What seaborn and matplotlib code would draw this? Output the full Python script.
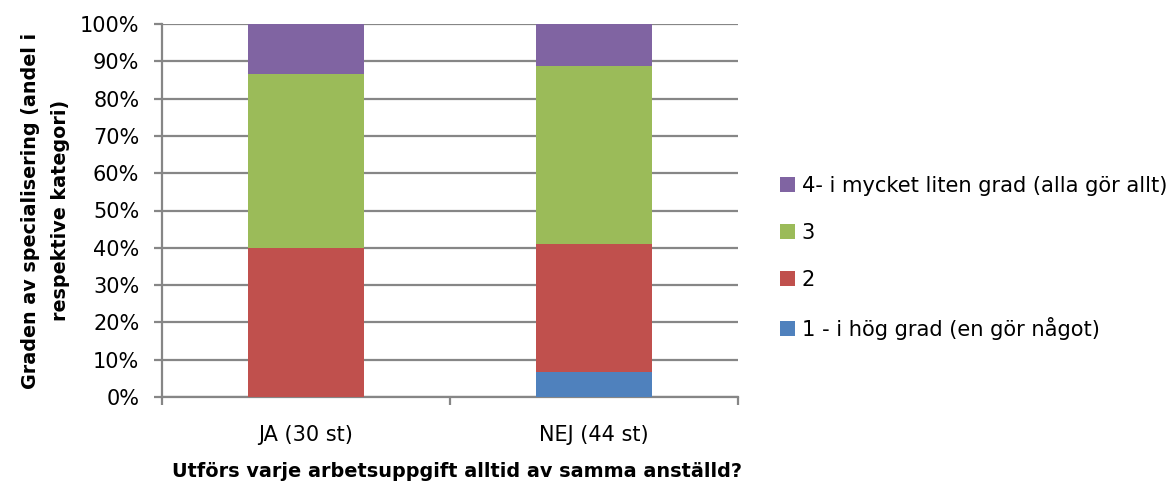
import matplotlib
matplotlib.use("Agg")
import matplotlib.pyplot as plt
from matplotlib.patches import Patch
from matplotlib.ticker import PercentFormatter
import numpy as np
import pandas as pd
import seaborn as sns

# Shares per answer group (counts converted to percent of each group)
categories = ["JA (30 st)", "NEJ (44 st)"]
series_names = ["1 - i hög grad (en gör något)", "2", "3",
                "4- i mycket liten grad (alla gör allt)"]
level_1 = [0.0, 6.82]
level_2 = [40.0, 34.09]
level_3 = [46.67, 47.73]
level_4 = [13.33, 11.36]
colors = ["#4F81BD", "#C0504D", "#9BBB59", "#8064A2"]
y_ticks = [0, 10, 20, 30, 40, 50, 60, 70, 80, 90, 100]

sns.set_theme(style="white")
plt.rcParams["font.family"] = ["DejaVu Sans"]
plt.rcParams["text.color"] = "#000000"
plt.rcParams["axes.labelcolor"] = "#000000"

fig = plt.figure(figsize=(11.72, 4.84), dpi=100)
W, H = 1172, 484
ax = fig.add_axes([162 / W, 1 - 397 / H, (738 - 162) / W, (397 - 24) / H])

levels = np.array([level_1, level_2, level_3, level_4])
cum = np.cumsum(levels, axis=0)

# Stack by drawing cumulative totals from the top layer downward
for i in range(len(series_names) - 1, -1, -1):
    df = pd.DataFrame({"cat": categories, "val": cum[i]})
    sns.barplot(data=df, x="cat", y="val", color=colors[i], width=0.4,
                saturation=1, ax=ax, zorder=3, linewidth=0)

ax.set_xlim(-0.5, 1.5)
ax.set_ylim(0, 100)
ax.set_yticks(y_ticks)
ax.yaxis.set_major_formatter(PercentFormatter(decimals=0))
ax.grid(axis="y", color="#868686", linewidth=1.6, zorder=0)
ax.set_axisbelow(True)

for side in ["top", "right"]:
    ax.spines[side].set_visible(False)
for side in ["left", "bottom"]:
    ax.spines[side].set_color("#868686")
    ax.spines[side].set_linewidth(1.6)

# category-boundary tick marks on the x axis
ax.set_xticks([-0.5, 0.5, 1.5], minor=True)
ax.tick_params(axis="x", which="minor", length=5.8, width=1.6, color="#868686",
               direction="out", bottom=True)
ax.tick_params(axis="x", which="major", length=0, labelsize=15, pad=20,
               labelcolor="#000000")
ax.tick_params(axis="y", which="major", length=5.8, width=1.6, color="#868686",
               direction="out", left=True, labelsize=15, pad=10.5,
               labelcolor="#000000")

ax.set_xlabel("Utförs varje arbetsuppgift alltid av samma anställd?",
              fontsize=13.9, fontweight="bold", labelpad=12, color="#000000")
ax.xaxis.set_label_coords(0.512, -0.2, transform=ax.transAxes)
ax.xaxis.label.set_verticalalignment("center")
ax.set_ylabel("Graden av specialisering (andel i\nrespektive kategori)",
              fontsize=13.8, fontweight="bold", labelpad=7, linespacing=1.75,
              color="#000000")

handles = [Patch(facecolor=colors[i], edgecolor="none", label=series_names[i])
           for i in range(len(series_names) - 1, -1, -1)]
fig.legend(handles=handles, loc="center left",
           bbox_to_anchor=(780 / W, 1 - 258 / H), frameon=False,
           fontsize=15.1, handlelength=0.71, handleheight=0.71,
           handletextpad=0.33, labelspacing=1.29, borderaxespad=0,
           borderpad=0, labelcolor="#000000")

fig.savefig("out.png", dpi=100, facecolor="white")
